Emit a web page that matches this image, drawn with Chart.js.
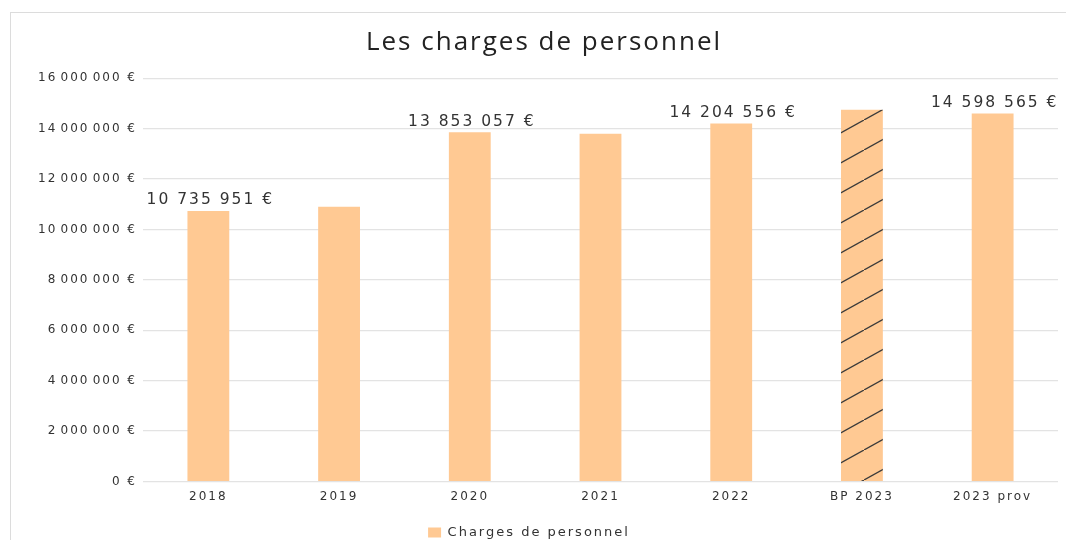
<!DOCTYPE html>
<html lang="fr">
<head>
<meta charset="utf-8">
<script src="https://cdn.jsdelivr.net/npm/chart.js@4.4.1/dist/chart.umd.min.js"></script>
<style>
    html, body { margin: 0; padding: 0; background: #fff; }
    #wrap { position: relative; width: 1066px; height: 540px; overflow: hidden; }
    #frame { position: absolute; left: 10px; top: 12px; width: 1070px; height: 540px; border: 1px solid #dcdcdc; box-sizing: border-box; }
    canvas { position: absolute; left: 0; top: 0; }
</style>
</head>
<body>
<div id="wrap">
    <div id="frame"></div>
    <canvas id="chartCharges" width="1066" height="540"></canvas>
</div>
<script>
// données
const annees = ['2018', '2019', '2020', '2021', '2022', 'BP 2023', '2023 prov'];
const charges = [10735951, 10905000, 13853057, 13800000, 14204556, 14750000, 14598565];
const afficherValeur = [true, false, true, false, true, false, true];
const hachure = [false, false, false, false, false, true, false];
const yTicks = [0, 2000000, 4000000, 6000000, 8000000, 10000000, 12000000, 14000000, 16000000];

const PECHE = '#ffc993';

function formatEuro(v, sep) {
    return Math.round(v).toString().replace(/\B(?=(\d{3})+(?!\d))/g, sep) + ' €';
}

function motifHachure(ctx) {
    const c = document.createElement('canvas');
    c.width = 54; c.height = 30;
    const g = c.getContext('2d');
    g.fillStyle = PECHE;
    g.fillRect(0, 0, 54, 30);
    g.strokeStyle = '#3a3a3a';
    g.lineWidth = 1.3;
    g.beginPath();
    g.moveTo(-54, 60); g.lineTo(108, -30);
    g.stroke();
    return ctx.createPattern(c, 'repeat');
}

const espacement = {
    id: 'espacement',
    beforeUpdate(chart) { chart.ctx.letterSpacing = '2px'; },
    beforeDraw(chart) { chart.ctx.letterSpacing = '2px'; }
};

const etiquettes = {
    id: 'etiquettes',
    afterDatasetsDraw(chart) {
        const ctx = chart.ctx;
        const meta = chart.getDatasetMeta(0);
        ctx.save();
        ctx.font = '15.5px "DejaVu Sans"';
        ctx.letterSpacing = '2px';
        ctx.fillStyle = '#333';
        ctx.textAlign = 'center';
        ctx.textBaseline = 'bottom';
        meta.data.forEach((bar, i) => {
            if (!afficherValeur[i]) return;
            ctx.fillText(formatEuro(charges[i], ' '), bar.x + 2, bar.y - 3);
        });
        ctx.restore();
    }
};

const canvas = document.getElementById('chartCharges');
const ctx = canvas.getContext('2d');
const pattern = motifHachure(ctx);

Chart.defaults.font.family = '"DejaVu Sans"';
Chart.defaults.color = '#333';

new Chart(ctx, {
    type: 'bar',
    data: {
        labels: annees,
        datasets: [{
            label: 'Charges de personnel',
            data: charges,
            backgroundColor: charges.map((v, i) => hachure[i] ? pattern : PECHE),
            borderWidth: 0,
            categoryPercentage: 1,
            barPercentage: 0.32
        }]
    },
    options: {
        responsive: false,
        animation: false,
        layout: { padding: { top: 12, right: 8, left: 0, bottom: -9 } },
        plugins: {
            title: {
                display: true,
                text: '\u2002\u2002Les charges de personnel',
                color: '#222',
                font: { family: '"Open Sans"', size: 26, weight: 'normal' },
                padding: { top: 15, bottom: 20 }
            },
            legend: {
                position: 'bottom',
                labels: {
                    boxWidth: 13,
                    boxHeight: 10,
                    padding: 2,
                    font: { size: 13 },
                    color: '#333'
                }
            },
            tooltip: { enabled: false }
        },
        scales: {
            x: {
                grid: { display: false, drawTicks: false },
                border: { display: false },
                ticks: { padding: 8, font: { size: 12 }, color: '#333' },
                afterFit(scale) { scale.height = 42.5; }
            },
            y: {
                min: 0,
                max: 16000000,
                afterBuildTicks(scale) { scale.ticks = yTicks.map(v => ({ value: v })); },
                grid: { color: '#e3e3e3', lineWidth: 1.2, drawTicks: false },
                border: { display: false },
                ticks: {
                    padding: 6,
                    font: { size: 12 },
                    color: '#333',
                    callback: v => formatEuro(v, '\u200A')
                },
                afterFit(scale) { scale.width = 143; }
            }
        }
    },
    plugins: [espacement, etiquettes]
});
</script>
</body>
</html>
